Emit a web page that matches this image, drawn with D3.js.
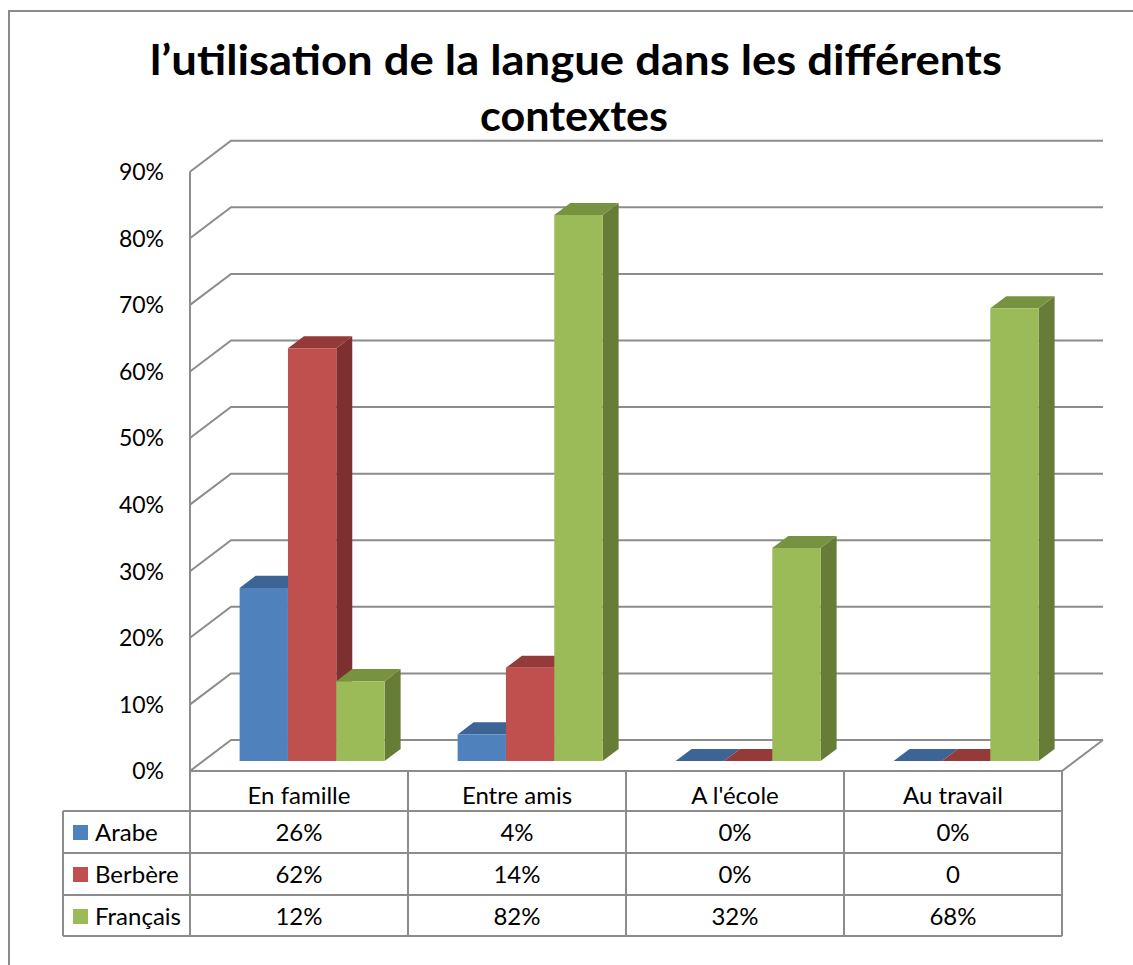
<!DOCTYPE html>
<html>
<head>
<meta charset="utf-8">
<script src="https://cdn.jsdelivr.net/npm/d3@7"></script>
<style>
    body { margin: 0; background: #fff; }
    text { font-family: Lato, "Open Sans", sans-serif; fill: #000; }
</style>
</head>
<body>
<div id="chart"></div>
<script>
// data
const categories = ["En famille", "Entre amis", "A l'école", "Au travail"];
const seriesNames = ["Arabe", "Berbère", "Français"];
const arabe = [0.26, 0.04, 0, 0];
const berbere = [0.62, 0.14, 0, 0];
const francais = [0.12, 0.82, 0.32, 0.68];
const tableText = [
    ["26%", "4%", "0%", "0%"],
    ["62%", "14%", "0%", "0"],
    ["12%", "82%", "32%", "68%"]
];
const yTicks = [0, 0.1, 0.2, 0.3, 0.4, 0.5, 0.6, 0.7, 0.8, 0.9];
const titleLines = ["l\u2019utilisation de la langue dans les différents", "contextes"];

// colours: front, top, side
const colors = [
    { front: "#4F81BD", top: "#3C6494", side: "#385D8A" },
    { front: "#C0504D", top: "#943A38", side: "#7D302F" },
    { front: "#9BBB59", top: "#779341", side: "#667C37" }
];

class Bar3DChart {

    constructor(_parentElement) {
        this.parentElement = _parentElement;
        this.series = [arabe, berbere, francais];
        this.initVis();
    }

    initVis() {
        let vis = this;
        vis.width = 1133;
        vis.height = 965;

        vis.svg = d3.select("#" + vis.parentElement).append("svg")
            .attr("width", vis.width)
            .attr("height", vis.height);

        vis.svg.append("rect").attr("width", vis.width).attr("height", vis.height).attr("fill", "#fff");

        // outer frame (only left and top visible)
        vis.svg.append("path")
            .attr("d", "M9,965 L9,11 L1133,11")
            .attr("fill", "none").attr("stroke", "#8a8a8a").attr("stroke-width", 2);

        // plot geometry: front plane + depth offset
        vis.left = 190;
        vis.right = 1062;
        vis.depthX = 41;
        vis.depthY = 31;

        vis.y = d3.scaleLinear().domain([0, 0.9]).range([771, 171.7]);
        vis.x = d3.scaleBand().domain(categories).range([vis.left, vis.right]);
        vis.xSeries = d3.scaleBand().domain(seriesNames)
            .range([0, vis.x.bandwidth()]).paddingInner(0).paddingOuter(0.755);

        vis.zFront = 0.32;
        vis.zBack = 0.71;

        vis.proj = function (x, z, v) {
            return [x + z * vis.depthX, vis.y(v) - z * vis.depthY];
        };

        vis.updateVis();
    }

    updateVis() {
        let vis = this;
        let gridColor = "#8c8c8c";
        let line = d3.line();

        // gridlines: left wall diagonal + back wall
        vis.svg.append("g").selectAll("path")
            .data(yTicks)
            .join("path")
            .attr("d", d => line([vis.proj(vis.left, 0, d), vis.proj(vis.left, 1, d), vis.proj(vis.right, 1, d)]))
            .attr("fill", "none").attr("stroke", gridColor).attr("stroke-width", 2);

        // floor outline
        vis.svg.append("path")
            .attr("d", line([vis.proj(vis.left, 0, 0), vis.proj(vis.right, 0, 0), vis.proj(vis.right, 1, 0)]))
            .attr("fill", "none").attr("stroke", gridColor).attr("stroke-width", 2);

        // left wall front edge, continuing down into the table
        vis.svg.append("line")
            .attr("x1", vis.left).attr("x2", vis.left)
            .attr("y1", vis.y(0.9)).attr("y2", 936)
            .attr("stroke", gridColor).attr("stroke-width", 2);

        // y axis labels
        vis.svg.append("g").selectAll("text")
            .data(yTicks)
            .join("text")
            .attr("x", 164)
            .attr("y", d => vis.y(d))
            .attr("dy", "0.36em")
            .attr("text-anchor", "end")
            .attr("font-size", 23)
            .text(d => d3.format(".0%")(d));

        // bars
        let bars = [];
        categories.forEach((c, ci) => {
            seriesNames.forEach((s, si) => {
                bars.push({ cat: c, ser: s, si: si, v: vis.series[si][ci] });
            });
        });

        let barG = vis.svg.append("g").selectAll("g")
            .data(bars)
            .join("g");

        let faces = function (d) {
            let x0 = vis.x(d.cat) + vis.xSeries(d.ser);
            let x1 = x0 + vis.xSeries.bandwidth();
            let zA = vis.zFront, zB = vis.zBack, P = vis.proj;
            return [
                { pts: [P(x1, zA, 0), P(x1, zB, 0), P(x1, zB, d.v), P(x1, zA, d.v)], fill: colors[d.si].side },
                { pts: [P(x0, zA, d.v), P(x1, zA, d.v), P(x1, zB, d.v), P(x0, zB, d.v)], fill: colors[d.si].top },
                { pts: [P(x0, zA, 0), P(x1, zA, 0), P(x1, zA, d.v), P(x0, zA, d.v)], fill: colors[d.si].front }
            ];
        };

        barG.selectAll("path")
            .data(d => faces(d))
            .join("path")
            .attr("d", d => line(d.pts) + "Z")
            .attr("fill", d => d.fill);

        // title
        vis.svg.append("text")
            .attr("x", 576).attr("y", 75)
            .attr("text-anchor", "middle")
            .attr("font-size", 42).attr("font-weight", "bold")
            .attr("textLength", 852).attr("lengthAdjust", "spacingAndGlyphs")
            .text(titleLines[0]);
        vis.svg.append("text")
            .attr("x", 574).attr("y", 131)
            .attr("text-anchor", "middle")
            .attr("font-size", 42).attr("font-weight", "bold")
            .attr("textLength", 188).attr("lengthAdjust", "spacingAndGlyphs")
            .text(titleLines[1]);

        // data table
        let rowTops = [811, 853, 895, 936];
        let tableLeft = 63;
        let tableFont = 24;
        let tg = vis.svg.append("g");

        tg.selectAll(".hline")
            .data(rowTops)
            .join("line")
            .attr("class", "hline")
            .attr("x1", tableLeft).attr("x2", vis.right)
            .attr("y1", d => d).attr("y2", d => d)
            .attr("stroke", gridColor).attr("stroke-width", 2);

        tg.append("line")
            .attr("x1", tableLeft).attr("x2", tableLeft)
            .attr("y1", rowTops[0]).attr("y2", rowTops[3])
            .attr("stroke", gridColor).attr("stroke-width", 2);

        tg.selectAll(".vline")
            .data(categories)
            .join("line")
            .attr("class", "vline")
            .attr("x1", d => vis.x(d) + vis.x.bandwidth())
            .attr("x2", d => vis.x(d) + vis.x.bandwidth())
            .attr("y1", 771).attr("y2", rowTops[3])
            .attr("stroke", gridColor).attr("stroke-width", 2);

        // header row
        tg.selectAll(".head")
            .data(categories)
            .join("text")
            .attr("class", "head")
            .attr("x", d => vis.x(d) + vis.x.bandwidth() / 2)
            .attr("y", 804)
            .attr("text-anchor", "middle")
            .attr("font-size", tableFont)
            .text(d => d);

        seriesNames.forEach((s, si) => {
            let top = rowTops[si];
            tg.append("rect")
                .attr("x", 73).attr("y", top + 14)
                .attr("width", 15).attr("height", 15)
                .attr("fill", colors[si].front);
            tg.append("text")
                .attr("x", 95).attr("y", top + 30)
                .attr("font-size", tableFont)
                .text(s);
            tg.selectAll(".cell" + si)
                .data(categories)
                .join("text")
                .attr("class", "cell" + si)
                .attr("x", d => vis.x(d) + vis.x.bandwidth() / 2)
                .attr("y", top + 30)
                .attr("text-anchor", "middle")
                .attr("font-size", tableFont)
                .text((d, ci) => tableText[si][ci]);
        });
    }
}

new Bar3DChart("chart");
</script>
</body>
</html>
